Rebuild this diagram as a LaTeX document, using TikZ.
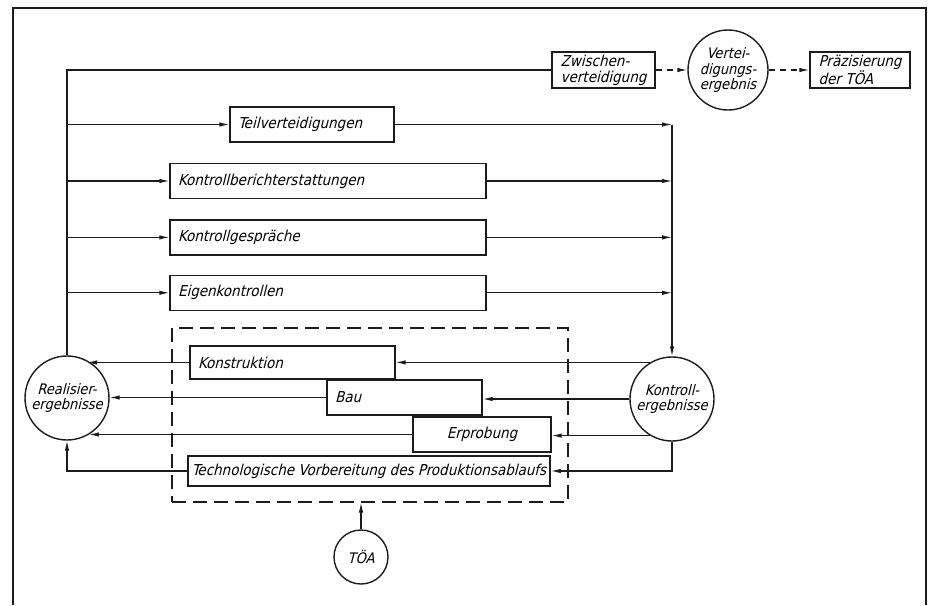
\documentclass[tikz,border=0pt]{standalone}
\usepackage{fontspec}
\newfontfamily\din{DejaVu Sans Condensed}[FakeSlant=0.25]
\usepackage{tikz}
\usetikzlibrary{positioning,arrows.meta}
\definecolor{cInk}{HTML}{1c1c1c}
\tikzset{
  >={Latex[length=10pt,width=4.5pt]},
  kfont/.style={font=\din\fontsize{15}{16}\selectfont},
  kbox/.style={kfont,draw=cInk,line width=1.4pt,inner xsep=8pt,inner ysep=2pt,
               align=left,minimum height=35pt},
  kcirc/.style={kbox,circle,inner sep=0pt,align=center,font=\din\fontsize{14.5}{15.5}\selectfont},
  kln/.style={line width=1.1pt,cInk},
  kar/.style={->,kln},
  kdash/.style={kar,dash pattern=on 6pt off 5pt},
  kgrp/.style={draw=cInk,line width=1.1pt,dash pattern=on 14pt off 7pt},
}
\begin{document}
\begin{tikzpicture}[x=1pt,y=-1pt]
  \useasboundingbox (0,0) rectangle (931,605);
  \draw[kln] (13,605) -- (13,8) -- (926,8) -- (926,605);
  % defence row
  \node[kbox,minimum width=103pt,minimum height=36pt,inner xsep=2pt] (zw) at (603.5,70) {Zwischen-\\verteidigung};
  \node[kcirc,minimum size=80pt] (ve) at (728,70) {Vertei-\\digungs-\\ergebnis};
  \node[kbox,minimum width=100pt,minimum height=36pt,inner xsep=3pt] (pr) at (860,70) {Präzisierung\\der TÖA};
  % control boxes
  \node[kbox,text width=148pt] (tv) at (312,124.5) {Teilverteidigungen};
  \node[kbox,text width=300pt] (kb) at (328,181) {Kontrollberichterstattungen};
  \node[kbox,text width=300pt,below=20pt of kb] (kg) {Kontrollgespräche};
  \node[kbox,text width=300pt,below=19pt of kg] (ek) {Eigenkontrollen};
  % realisation group
  \node[kbox,text width=189pt,minimum height=33pt] (ko) at (292.5,362.5) {Konstruktion};
  \node[kbox,text width=139pt] (bau) at (404.5,397.5) {Bau};
  \node[kbox,text width=122pt,align=center] (er) at (482,434.5) {Erprobung};
  \node[kbox,line width=1.9pt,minimum width=362pt,minimum height=30pt,inner xsep=2pt,
        align=center] (tvp) at (369,471) {Technologische Vorbereitung des Produktionsablaufs};
  \node[kgrp,minimum width=396pt,minimum height=174pt] (grp) at (370,415) {};
  % results
  \node[kcirc,minimum size=84pt] (re) at (67,398) {Realisier-\\ergebnisse};
  \node[kcirc,minimum size=84pt] (kr) at (672,399) {Kontroll-\\ergebnisse};
  \node[kcirc,minimum size=54pt] (toa) at (361,557) {TÖA};
  % feedback on the left
  \draw[kln] (re.north) |- (zw.west);
  \foreach \b in {tv,kb,kg,ek} \draw[kar] (re.north |- \b.west) -- (\b.west);
  % collecting on the right
  \draw[kar] (tv.east) -- (kr.north |- tv.east);
  \draw[kar] (kr.north |- tv.east) -- (kr.north);
  \foreach \b in {kb,kg,ek} \draw[kar] (\b.east) -- (kr.north |- \b.east);
  \draw[kar] (kr.121) -- (kr.121 -| ko.east);
  \draw[kar] (kr.west) -- (kr.west -| bau.east);
  \draw[kar] (kr.239) -- (kr.239 -| er.east);
  \draw[kar] (kr.south) |- (tvp.east);
  \draw[kar] (ko.west) -- (ko.west -| re.62);
  \draw[kar] (bau.west) -- (bau.west -| re.east);
  \draw[kar] (er.west) -- (er.west -| re.301);
  \draw[kar] (tvp.west) -| (re.south);
  \draw[kar] (toa.north) -- (toa.north |- grp.south);
  \draw[kdash] (zw.east) -- (ve.west);
  \draw[kdash] (ve.east) -- (pr.west);
\end{tikzpicture}
\end{document}
